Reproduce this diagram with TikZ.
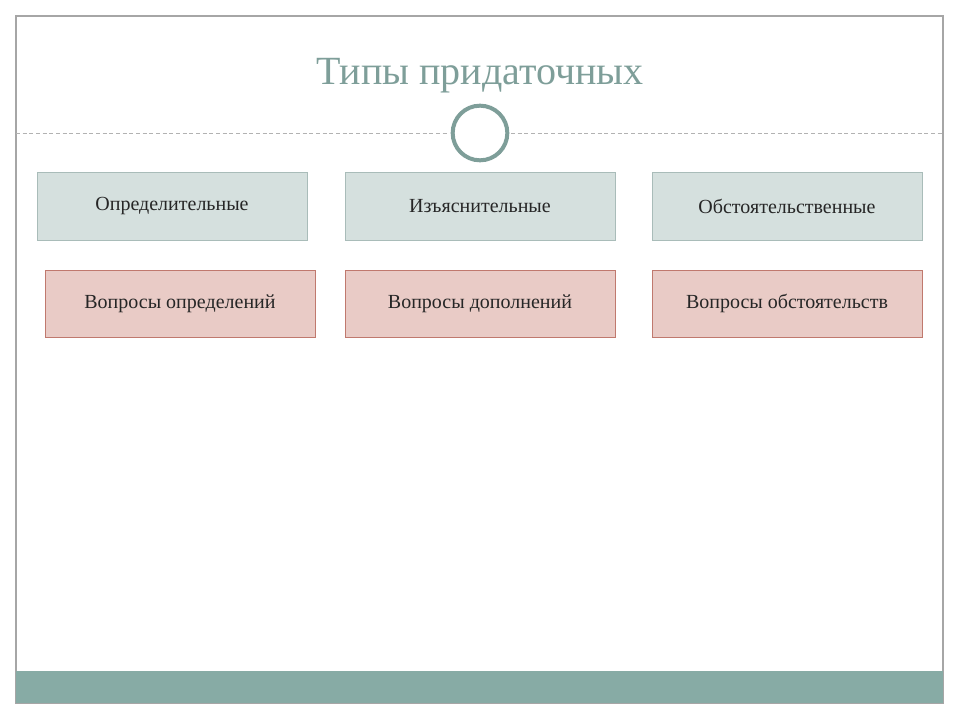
\documentclass[tikz,border=0pt]{standalone}
\usepackage{fontspec}
\setmainfont{Liberation Serif}
\definecolor{teal1}{HTML}{87ABA5}
\definecolor{titlec}{HTML}{7E9E99}
\definecolor{boxA}{HTML}{D5E0DE}
\definecolor{boxAb}{HTML}{A9BCB9}
\definecolor{boxB}{HTML}{E9CBC6}
\definecolor{boxBb}{HTML}{C0796E}
\tikzset{
  boxa/.style={draw=boxAb,fill=boxA,minimum width=202.5pt,minimum height=51pt,inner sep=0pt,font=\fontsize{15}{18}\selectfont,text=black!85},
  boxb/.style={draw=boxBb,fill=boxB,minimum width=202.5pt,minimum height=50pt,inner sep=0pt,font=\fontsize{15}{18}\selectfont,text=black!85}
}
\begin{document}
\begin{tikzpicture}[x=0.75pt,y=-0.75pt]
\useasboundingbox (0,0) rectangle (960,720);
\fill[white] (0,0) rectangle (960,720);
\draw[gray!70,line width=0.8pt] (16,16) rectangle (943,703);
\fill[teal1] (16,671) rectangle (943,703);
\node[text=titlec,font=\fontsize{30}{36}\selectfont] (title) at (480,76) {Типы придаточных};
\coordinate (l1) at (16,133); \coordinate (l2) at (447,133);
\coordinate (r1) at (511,133); \coordinate (r2) at (943,133);
\draw[gray!60,densely dashed,line width=0.5pt] (l1) -- (l2) (r1) -- (r2);
\node[draw=titlec,line width=3pt,circle,minimum size=41pt,inner sep=0pt] (c) at (480,133) {};
\node[boxa] (a1) at (172,206) {Определительные};
\node[boxa] (a2) at (480,206) {Изъяснительные};
\node[boxa] (a3) at (787,206) {Обстоятельственные};
\node[boxb] (b1) at (180,303.5) {Вопросы определений};
\node[boxb] (b2) at (480,303.5) {Вопросы дополнений};
\node[boxb] (b3) at (787,303.5) {Вопросы обстоятельств};
\end{tikzpicture}
\end{document}
